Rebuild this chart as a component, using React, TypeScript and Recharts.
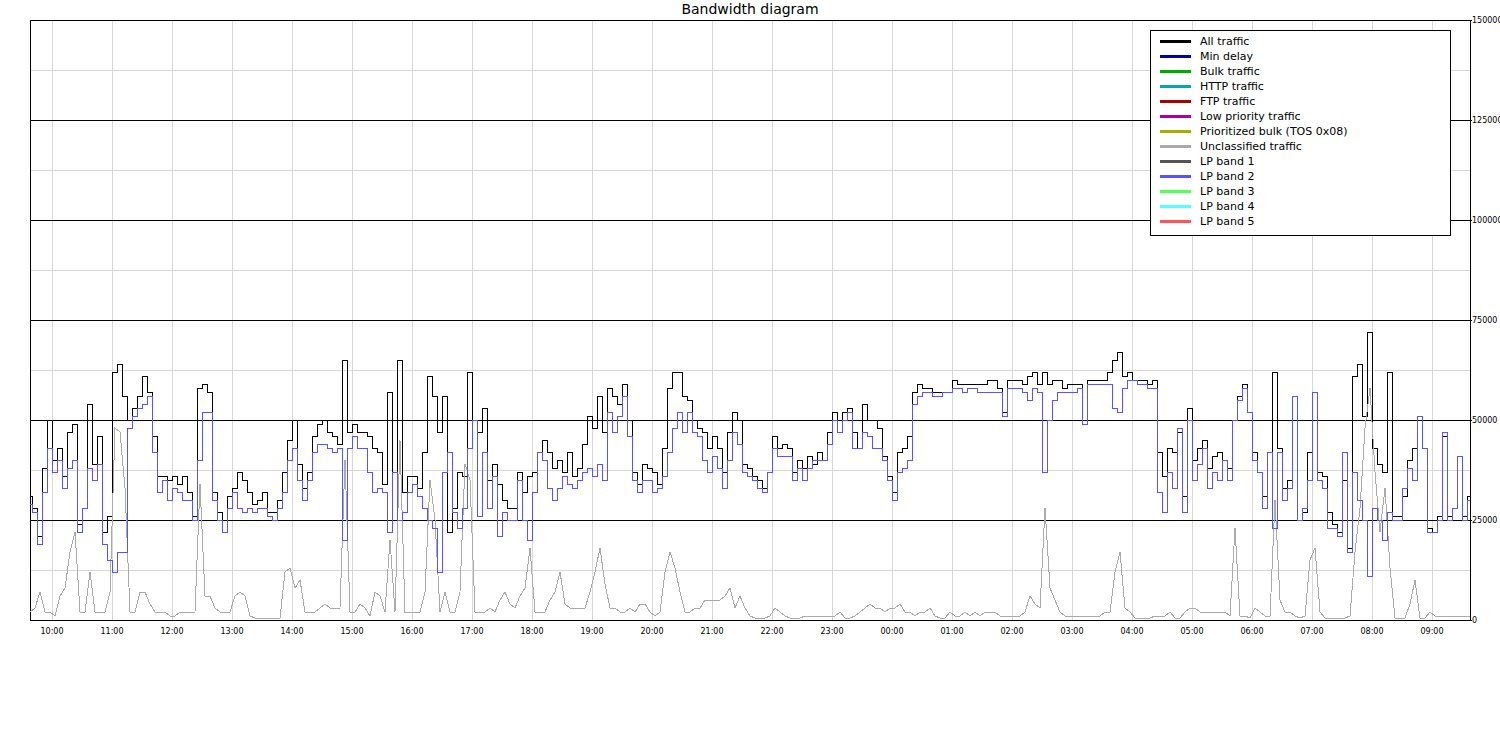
import React from 'react';
import { LineChart, Line, XAxis, YAxis, ReferenceLine, Legend } from 'recharts';

// Time axis: minutes since midnight of day 1, one sample every 5 minutes
const START_MIN = 578;
const STEP_MIN = 5;
const DOMAIN_END = 2018;

// Values in thousands
const allTrafficK = [
  31,28,21,38,50,40,43,36,47,49, 24,28,54,39,46,22,26,62,64,56, 50,53,56,61,57,46,36,36,35,36, 34,36,32,26,58,59,57,32,27,25, 31,33,37,35,32,29,30,32,27,
  27,30,37,45,50,39,33,37,46,49, 50,47,46,44,65,47,49,47,47,46, 43,42,34,57,37,65,32,36,36,33, 42,61,56,47,56,22,28,37,36,62, 50,47,53,35,39,34,30,28,
  28,37,32,36,37,42,45,42,38,40, 37,42,36,38,44,51,48,56,47,58, 56,54,59,50,37,34,39,38,37,34, 43,58,62,62,56,55,50,48,47,43, 46,43,37,47,52,50,39,38,
  36,35,33,37,46,43,44,43,37,40, 38,41,39,42,40,47,52,50,52,53, 47,43,54,50,50,48,41,36,32,42, 43,46,57,59,58,58,57,57,57,57, 60,59,59,59,59,59,59,60,
  60,58,52,60,60,60,59,61,62,59, 62,59,60,60,58,59,59,59,50,60, 60,60,60,62,65,67,61,62,60,60, 60,59,60,42,36,43,42,47,31,53, 40,43,45,38,41,42,40,38,
  50,56,59,52,42,37,31,42,62,43, 33,35,56,25,27,42,57,37,36,27, 24,22,35,18,61,64,51,72,43,39, 37,62,26,26,31,40,43,51,43,23, 22,26,46,26,28,41,26,31,
];

const lpBand2K = [
  29,27,19,32,43,37,40,33,38,40, 22,28,38,35,39,19,15,12,17,17, 48,51,53,54,56,42,32,35,30,33, 32,30,30,25,40,52,52,30,25,22, 28,32,28,27,28,27,28,28,26,
  25,28,32,40,43,35,30,35,42,44, 44,43,42,43,20,43,46,43,43,37, 32,33,32,22,37,25,27,32,34,31, 28,25,23,12,37,42,27,23,28,43, 50,26,42,28,36,21,27,25,
  25,35,25,20,32,42,40,33,30,33, 36,34,33,35,37,38,36,39,35,52, 47,51,56,46,35,32,35,35,32,33, 36,42,48,52,47,52,47,46,40,37, 41,38,33,40,47,44,37,36,
  35,33,32,37,43,41,41,41,35,38, 35,38,40,40,40,44,50,47,50,52, 43,43,47,46,43,43,40,35,30,37, 38,40,54,56,57,57,56,56,57,57, 58,58,57,58,58,57,57,57,
  57,57,51,58,58,58,57,55,58,57, 37,50,55,57,57,57,57,58,49,59, 59,59,59,59,53,52,58,60,60,59, 59,58,58,32,27,37,33,48,27,50, 35,39,43,33,37,35,40,35,
  50,55,58,52,40,37,28,42,23,42, 30,33,56,25,28,35,57,35,33,23, 23,21,42,17,37,30,25,11,28,25, 20,27,25,25,33,38,35,51,43,22, 22,25,47,25,28,41,25,30,
];

const unclassifiedK = [
  2,3,7,2,2,1,6,8,17,22, 2,2,12,2,2,2,7,48,47,33, 2,2,7,7,4,2,2,2,1,1, 2,2,2,2,34,6,6,3,2,2, 2,6,7,6,1,0.5,0.5,0.5,0.5,
  0.5,0.5,12,13,8,10,2,2,2,3, 4,3,3,3,40,2,2,4,3,1, 7,6,2,20,2,45,2,2,2,2, 7,35,25,2,7,2,2,7,39,35, 2,2,2,3,2,5,7,4,
  3,6,8,18,2,2,2,5,7,12, 4,3,3,3,3,7,12,18,9,3, 3,2,2,3,2,4,4,2,1,2, 12,17,13,7,2,2,3,3,5,5, 5,5,6,8,3,6,3,1,
  0.5,0.5,0.5,1,3,2,1,0.5,0.5,0.5, 1,1,1,1,1,1,1,2,0.5,0.5, 1,2,3,4,3,3,2,3,3,4, 2,2,1,2,2,3,1,0.5,0.5,2, 1,1,2,1,2,1,2,2,
  2,1,1,1,1,1,2,6,4,3, 28,8,5,2,1,1,1,1,1,1, 1,1,2,2,12,17,3,2,0.5,0.5, 0.5,0.5,1,1,1,2,0.5,0.5,2,3, 3,2,2,2,2,2,2,1,
  23,1,1,0.5,3,2,1,1,30,5, 2,2,1,0.5,1,15,18,2,0.5,0.5, 0.5,0.5,0.5,1,17,28,48,58,37,22, 33,13,0.5,0.5,0.5,4,10,0.5,0.5,2, 1,1,1,1,1,1,1,1,
];

const hourTicks = [600,660,720,780,840,900,960,1020,1080,1140,1200,1260,1320,1380,1440,1500,1560,1620,1680,1740,1800,1860,1920,1980];
const yTicks = [0, 25000, 50000, 75000, 100000, 125000, 150000];
const yMinorGrid = [12500, 37500, 62500, 87500, 112500, 137500];
const yMajorGrid = [25000, 50000, 75000, 100000, 125000, 150000];

const legendNames = ['All traffic','Min delay','Bulk traffic','HTTP traffic','FTP traffic','Low priority traffic','Prioritized bulk (TOS 0x08)','Unclassified traffic','LP band 1','LP band 2','LP band 3','LP band 4','LP band 5'];
const legendColors = ['#000000','#0000aa','#00aa00','#00aaaa','#aa0000','#aa00aa','#aaaa00','#aaaaaa','#555555','#5555ff','#55ff55','#55ffff','#ff5555'];

const data = allTrafficK.map((v, i) => ({
  t: START_MIN + STEP_MIN * i,
  all: v * 1000,
  lp2: lpBand2K[i] * 1000,
  uncl: unclassifiedK[i] * 1000,
}));

const fmtHour = (m: number) => {
  const h = Math.floor((m % 1440) / 60);
  const mm = m % 60;
  return `${String(h).padStart(2, '0')}:${String(mm).padStart(2, '0')}`;
};

const FONT = '"DejaVu Sans", Verdana, sans-serif';

const LegendBox = () => (
  <div style={{ width: 299, height: 201, border: '1px solid #000', background: '#fff', paddingTop: 3, boxSizing: 'content-box', fontFamily: FONT, textAlign: 'left' }}>
    {legendNames.map((n, i) => (
      <div key={n} style={{ position: 'relative', height: 15 }}>
        <div style={{ position: 'absolute', left: 9, top: 6, width: 31, height: 3, background: legendColors[i] }} />
        <div style={{ position: 'absolute', left: 49, top: 0, lineHeight: '15px', fontSize: 11, color: '#000', whiteSpace: 'nowrap' }}>{n}</div>
      </div>
    ))}
  </div>
);

export default function App() {
  return (
    <div style={{ position: 'absolute', left: 0, top: 0, width: 1500, height: 740, background: '#fff', fontFamily: FONT }}>
      <style>{`.recharts-surface{overflow:visible} .recharts-reference-line line, .recharts-cartesian-axis-line, .recharts-cartesian-axis-tick-line, .recharts-line-curve{shape-rendering:crispEdges}`}</style>
      <LineChart width={1500} height={700} data={data} margin={{ top: 20, left: 30, right: 0, bottom: 50 }}>
        <XAxis
          dataKey="t"
          type="number"
          domain={[START_MIN, DOMAIN_END]}
          ticks={hourTicks}
          tickFormatter={fmtHour}
          allowDataOverflow
          axisLine={{ stroke: '#000' }}
          tickLine={false}
          tickSize={3}
          tickMargin={5}
          height={30}
          tick={{ fontSize: 8, fill: '#000', fontFamily: FONT }}
        />
        <YAxis
          orientation="right"
          type="number"
          domain={[0, 150000]}
          ticks={yTicks}
          allowDataOverflow
          interval={0}
          axisLine={{ stroke: '#000' }}
          tickLine={{ stroke: '#000' }}
          tickSize={2}
          tickMargin={0}
          width={30}
          tick={{ fontSize: 8, fill: '#000', fontFamily: FONT, textAnchor: 'start' }}
        />
        {hourTicks.map((h) => (
          <ReferenceLine key={'v' + h} x={h} stroke="#d8d8d8" strokeWidth={1} />
        ))}
        {yMinorGrid.map((v) => (
          <ReferenceLine key={'h' + v} y={v} stroke="#d8d8d8" strokeWidth={1} />
        ))}
        {yMajorGrid.map((v) => (
          <ReferenceLine key={'H' + v} y={v} stroke="#000" strokeWidth={1} />
        ))}
        <ReferenceLine x={START_MIN} stroke="#000" strokeWidth={1} />
        <Line dataKey="all" stroke="#000000" strokeWidth={1} dot={false} isAnimationActive={false} type="step" />
        <Line dataKey="uncl" stroke="#aaaaaa" strokeWidth={1} dot={false} isAnimationActive={false} type="linear" />
        <Line dataKey="lp2" stroke="#5555ff" strokeWidth={1} dot={false} isAnimationActive={false} type="step" />
        <Legend
          layout="horizontal"
          verticalAlign="middle"
          align="center"
          content={() => <LegendBox />}
          wrapperStyle={{ position: 'absolute', left: 1150, top: 30, width: 301, height: 205, bottom: 'auto', right: 'auto', margin: 0 }}
        />
      </LineChart>
      <div style={{ position: 'absolute', left: 0, top: 0, width: 1500, textAlign: 'center', fontSize: 14, lineHeight: '18px', color: '#000', zIndex: 2 }}>
        Bandwidth diagram
      </div>
    </div>
  );
}
